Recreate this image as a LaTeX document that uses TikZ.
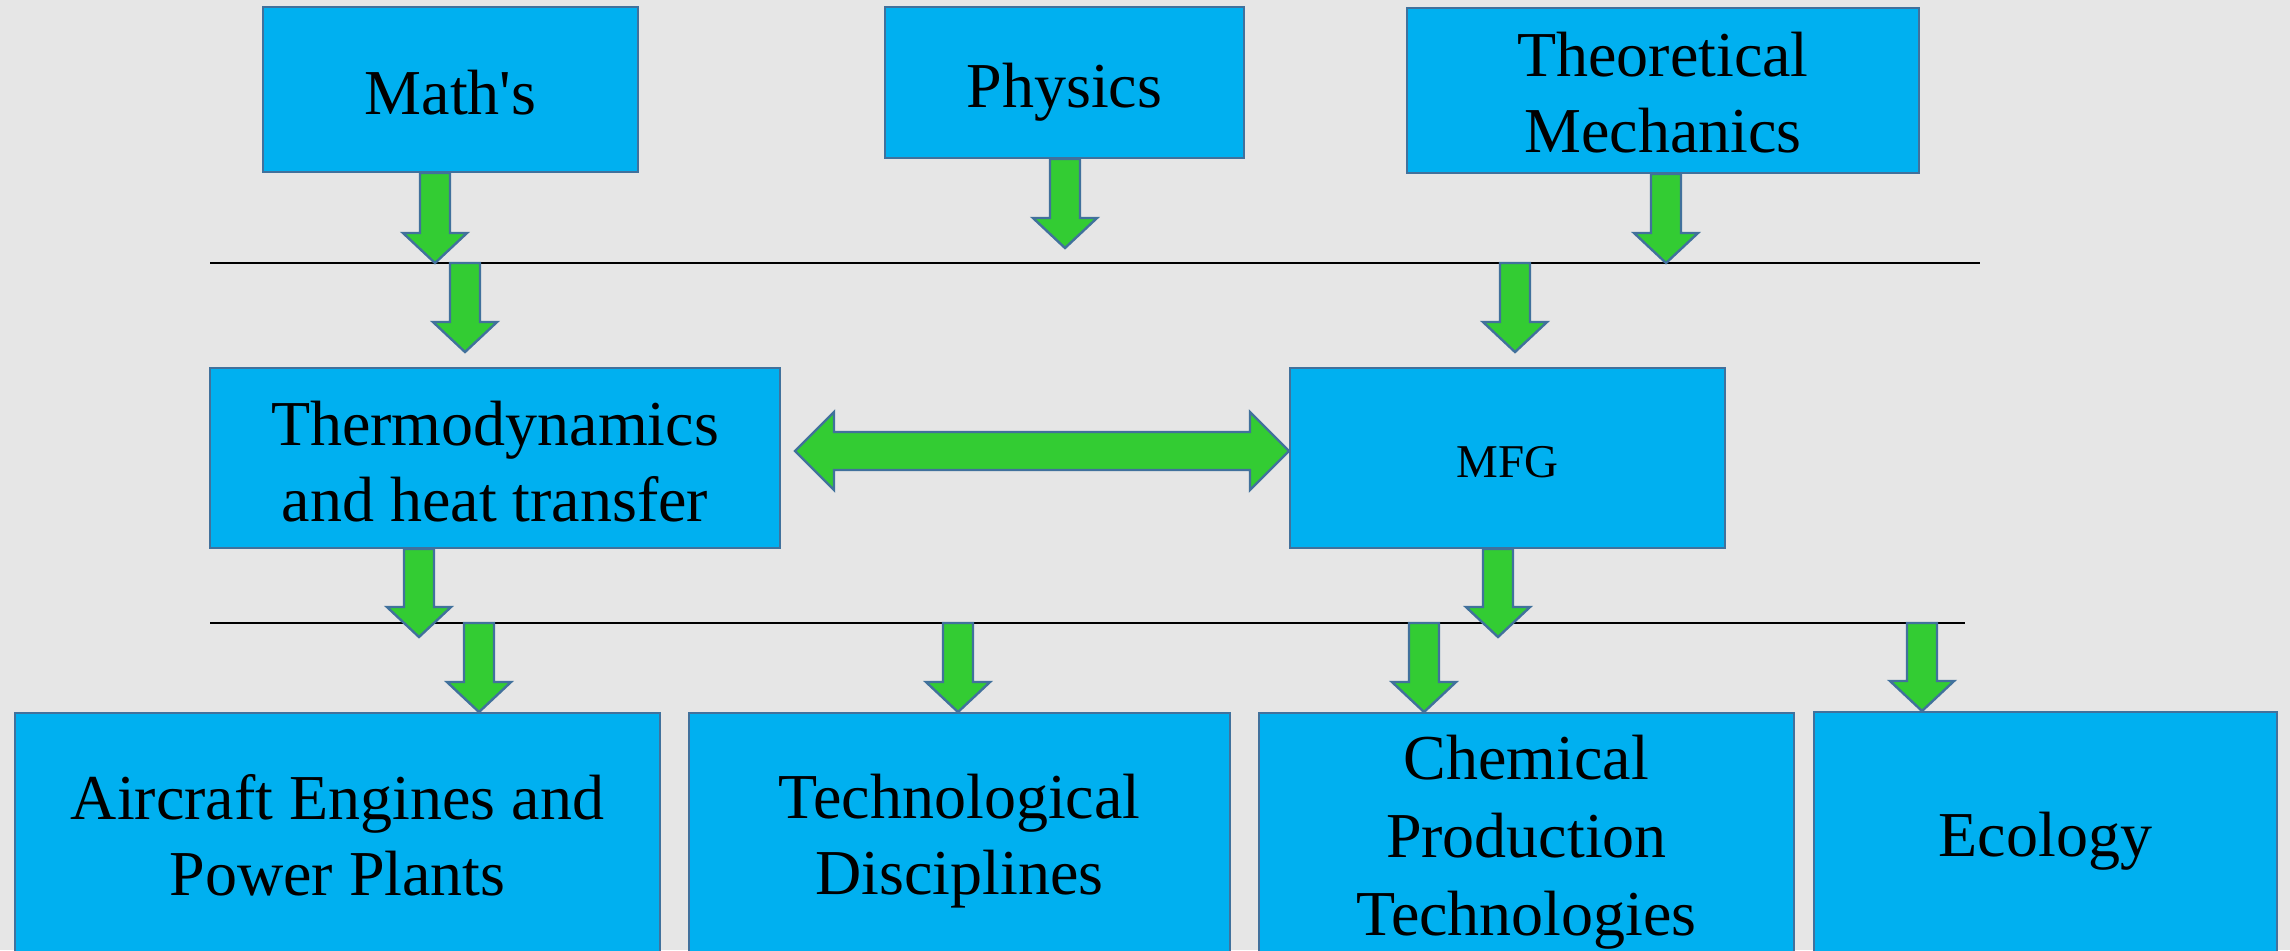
\documentclass[tikz,border=0pt]{standalone}
\usepackage{fontspec}
\setmainfont{Liberation Serif}
\usetikzlibrary{calc}

\definecolor{bgcol}{HTML}{E6E6E6}
\definecolor{boxcol}{HTML}{00B0F0}
\definecolor{edgecol}{HTML}{41719C}
\definecolor{arrowcol}{HTML}{33CC33}

\tikzset{
  box/.style={draw=edgecol, fill=boxcol, line width=1pt, align=center,
    inner sep=0pt, font=\fontsize{32}{38}\selectfont},
  blockarrow/.style={draw=edgecol, fill=arrowcol, line width=1.2pt, line join=miter},
  rule/.style={draw=black, line width=1pt}
}

% invisible strut that lowers a text block inside its box
\newcommand\lift[1]{\rule{0pt}{#1}}

% Downward block arrow: #1 = x position, #2 = start point, #3 = tip point
\newcommand\downblock[3]{%
  \path[blockarrow] let \p1=#2, \p2=#3, \p3=(#1,0) in
    (\x3-7.5pt,\y1) -- (\x3+7.5pt,\y1) -- (\x3+7.5pt,\y2+15pt) --
    (\x3+16pt,\y2+15pt) -- (\x3,\y2) -- (\x3-16pt,\y2+15pt) --
    (\x3-7.5pt,\y2+15pt) -- cycle;}

\begin{document}
\begin{tikzpicture}[x=0.5pt, y=-0.5pt]
  \fill[bgcol] (0,0) rectangle (2290,950);
  \useasboundingbox (0,0) rectangle (2290,950);
  \clip (0,0) rectangle (2290,950);

  % top row
  \node[box, minimum width=187.5pt, minimum height=82.5pt] (math) at (450.5,89.5) {\lift{24.9pt}Math\textquotesingle s};
  \node[box, minimum width=179.5pt, minimum height=75.5pt] (phys) at (1064.5,82.5) {\lift{31.9pt}Physics};
  \node[box, minimum width=256pt, minimum height=82.5pt] (theo) at (1663,90.5) {\lift{23.9pt}Theoretical\\Mechanics};

  % middle row
  \node[box, minimum width=285pt, minimum height=90pt] (thermo) at (495,458) {\lift{25.5pt}Thermodynamics\\and heat transfer};
  \node[box, minimum width=217.5pt, minimum height=90pt, font=\fontsize{23.5}{28}\selectfont] (mfg) at (1507.5,458) {\lift{19.3pt}MFG};

  % bottom row
  \node[box, minimum width=322.5pt, minimum height=122pt] (air) at (337.5,835) {Aircraft Engines and\\Power Plants};
  \node[box, minimum width=270.5pt, minimum height=122pt] (tech) at (959.5,835) {\lift{28.5pt}Technological\\Disciplines};
  \node[box, minimum width=267.5pt, minimum height=122pt, font=\fontsize{32}{39}\selectfont] (chem) at (1526.5,835) {\lift{29.1pt}Chemical\\Production\\Technologies};
  \node[box, minimum width=231.5pt, minimum height=122pt] (eco) at (2045.5,834) {\lift{29.1pt}Ecology};

  % horizontal rules
  \coordinate (r1a) at (210,263);
  \coordinate (r1b) at (1980,263);
  \coordinate (r2a) at (210,623);
  \coordinate (r2b) at (1965,623);
  \draw[rule] (r1a) -- (r1b);
  \draw[rule] (r2a) -- (r2b);

  % arrows into the first rule
  \downblock{435}{(math.south)}{(r1a)}
  \downblock{1065}{(phys.south)}{([yshift=7.5pt]r1a)}
  \downblock{1666}{(theo.south)}{(r1a)}

  % arrows from the first rule into the middle row
  \downblock{465}{(r1a)}{([yshift=7.5pt]thermo.north)}
  \downblock{1515}{(r1a)}{([yshift=7.5pt]mfg.north)}

  % arrows from the middle row to the second rule
  \downblock{419}{(thermo.south)}{([yshift=-7pt]r2a)}
  \downblock{1498}{(mfg.south)}{([yshift=-7pt]r2a)}

  % arrows from the second rule into the bottom row
  \downblock{479}{(r2a)}{(air.north)}
  \downblock{958}{(r2a)}{(tech.north)}
  \downblock{1424}{(r2a)}{(chem.north)}
  \downblock{1922}{(r2a)}{(eco.north)}

  % two-way arrow between the middle boxes
  \path[blockarrow] let \p1=([xshift=7pt]thermo.east), \p2=(mfg.west), \p3=(0,451) in
    (\x1,\y3) -- (\x1+19.5pt,\y3+19.5pt) -- (\x1+19.5pt,\y3+9.5pt) --
    (\x2-19.5pt,\y3+9.5pt) -- (\x2-19.5pt,\y3+19.5pt) -- (\x2,\y3) --
    (\x2-19.5pt,\y3-19.5pt) -- (\x2-19.5pt,\y3-9.5pt) --
    (\x1+19.5pt,\y3-9.5pt) -- (\x1+19.5pt,\y3-19.5pt) -- cycle;
\end{tikzpicture}
\end{document}
